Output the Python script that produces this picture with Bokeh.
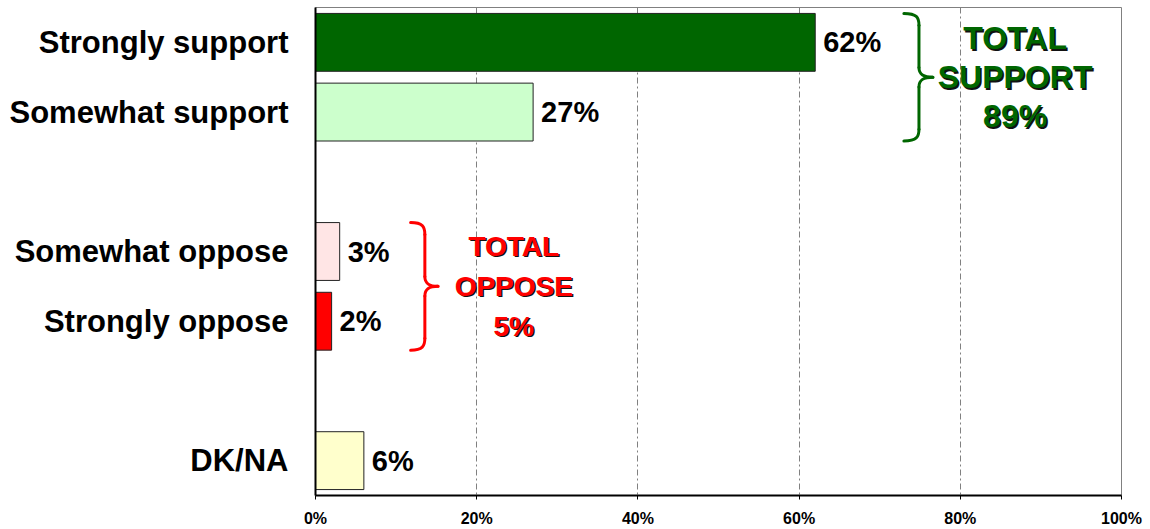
import numpy as np
from bokeh.plotting import figure
from bokeh.models import Range1d, FixedTicker, ColumnDataSource
from bokeh.core.properties import value
from bokeh.embed import file_html
from bokeh.resources import INLINE

# ---- data ----
categories = ["Strongly support", "Somewhat support", "Somewhat oppose", "Strongly oppose", "DK/NA"]
values = [62, 27, 3, 2, 6]
bar_colors = ["#006600", "#CCFFCC", "#FFE5E5", "#FF0000", "#FFFFCC"]
x_ticks = [0, 20, 40, 60, 80, 100]
x_tick_labels = ["0%", "20%", "40%", "60%", "80%", "100%"]
support_members = ["Strongly support", "Somewhat support"]
oppose_members = ["Somewhat oppose", "Strongly oppose"]
support_total = 89
oppose_total = 5
support_lines = ["TOTAL", "SUPPORT", f"{support_total}%"]
oppose_lines = ["TOTAL", "OPPOSE", f"{oppose_total}%"]

# ---- layout (row slots; blank rows separate the groups) ----
slots = [0, 1, 3, 4, 6]
slot_of = dict(zip(categories, slots))
BAR_H = 0.83
FONT = "Liberation Sans"

W, H = 1150, 529
p = figure(width=W, height=H, output_backend="svg", toolbar_location=None,
           x_range=Range1d(0, 100), y_range=Range1d(6.5, -0.5),
           min_border_left=315, min_border_right=29, min_border_top=7, min_border_bottom=33)
p.background_fill_color = "white"
p.border_fill_color = "white"
p.outline_line_color = "#808080"
p.outline_line_width = 1

src = ColumnDataSource(dict(
    y=slots, v=values, c=bar_colors,
    lbl=[f"{v}%" for v in values],
))
p.hbar(y="y", left=0, right="v", height=BAR_H, fill_color="c",
       line_color="#222222", line_width=1, source=src)
p.text(x="v", y="y", text="lbl", source=src, x_offset=8,
       text_font=value(FONT), text_font_style="bold", text_font_size="29px",
       text_baseline="middle", text_align="left", text_color="black")

# axes
p.xaxis.ticker = FixedTicker(ticks=x_ticks)
p.xaxis.major_label_overrides = {t: l for t, l in zip(x_ticks, x_tick_labels)}
p.xaxis.major_label_text_font = FONT
p.xaxis.major_label_text_font_style = "bold"
p.xaxis.major_label_text_font_size = "16px"
p.xaxis.major_label_text_color = "black"
p.xaxis.major_tick_out = 4
p.xaxis.major_tick_in = 0
p.xaxis.minor_tick_line_color = None
p.xaxis.major_label_standoff = 10
p.xaxis.axis_line_color = "black"
p.xaxis.axis_line_width = 2
p.xaxis.major_tick_line_color = "black"

p.yaxis.ticker = FixedTicker(ticks=slots)
p.yaxis.major_label_overrides = {s: c for s, c in zip(slots, categories)}
p.yaxis.major_label_text_font = FONT
p.yaxis.major_label_text_font_style = "bold"
p.yaxis.major_label_text_font_size = "31px"
p.yaxis.major_label_text_color = "black"
p.yaxis.major_tick_line_color = None
p.yaxis.minor_tick_line_color = None
p.yaxis.major_tick_out = 0
p.yaxis.major_label_standoff = 27
p.yaxis.axis_line_color = "black"
p.yaxis.axis_line_width = 2

p.xgrid.grid_line_color = "#808080"
p.xgrid.grid_line_dash = "6 3 2 3"
p.xgrid.grid_line_width = 1
p.ygrid.grid_line_color = None


def brace(x0, w, members, color):
    ys = [slot_of[m] for m in members]
    yt = min(ys) - BAR_H / 2
    yb = max(ys) + BAR_H / 2
    ym = (yt + yb) / 2
    xs = x0 + w * 0.52
    xp = x0 + w
    r = 0.17
    rm = 0.14
    segs = [
        (x0, yt, xs, yt + r, x0 + (xs - x0) * 0.85, yt, xs, yt + r * 0.35),
        (xs, yt + r, xs, ym - rm, xs, yt + r, xs, ym - rm),
        (xs, ym - rm, xp, ym, xs, ym - rm * 0.25, xs + (xp - xs) * 0.35, ym),
        (xp, ym, xs, ym + rm, xs + (xp - xs) * 0.35, ym, xs, ym + rm * 0.25),
        (xs, ym + rm, xs, yb - r, xs, ym + rm, xs, yb - r),
        (xs, yb - r, x0, yb, xs, yb - r * 0.35, x0 + (xs - x0) * 0.85, yb),
    ]
    a = np.array(segs)
    p.bezier(x0=a[:, 0], y0=a[:, 1], x1=a[:, 2], y1=a[:, 3],
             cx0=a[:, 4], cy0=a[:, 5], cx1=a[:, 6], cy1=a[:, 7],
             line_color=color, line_width=3, line_cap="round")
    return ym


def shadow_text(xc, ym, lines, color, size, spacing):
    offs = [(i - (len(lines) - 1) / 2) * spacing for i in range(len(lines))]
    n = len(lines)
    p.text(x=[xc] * n, y=[ym] * n, text=lines, x_offset=1.5, y_offset=[o + 1.5 for o in offs],
           text_font=value(FONT), text_font_style="bold", text_font_size=size,
           text_align="center", text_baseline="middle", text_color="#111111")
    p.text(x=[xc] * n, y=[ym] * n, text=lines, x_offset=0, y_offset=offs,
           text_font=value(FONT), text_font_style="bold", text_font_size=size,
           text_align="center", text_baseline="middle", text_color=color)


ym_s = brace(73.0, 3.6, support_members, "#006600")
shadow_text(86.8, ym_s, support_lines, "#006600", "32px", 39)
ym_o = brace(11.8, 3.4, oppose_members, "#FF0000")
shadow_text(24.6, ym_o, oppose_lines, "#FF0000", "28px", 40)

open("out.html", "w").write(file_html(p, INLINE))
